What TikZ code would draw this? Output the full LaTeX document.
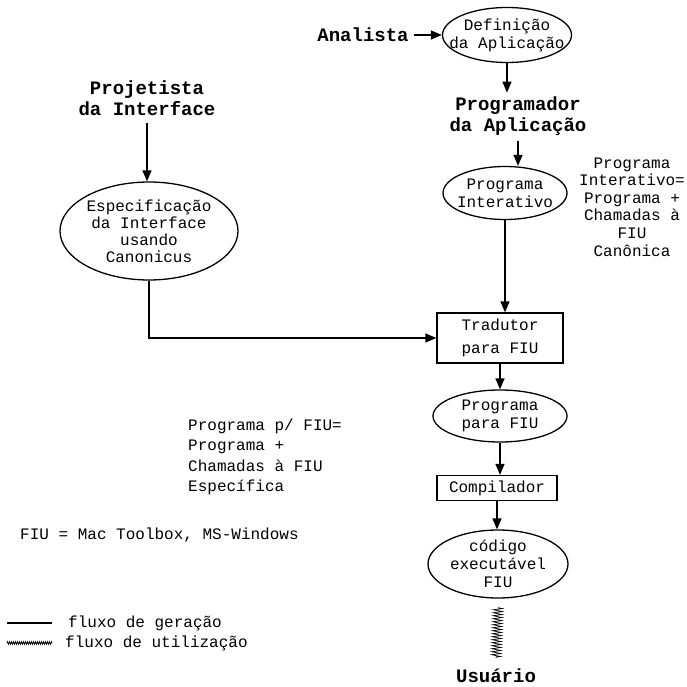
\documentclass[tikz,border=0pt]{standalone}
\usepackage{fontspec}
\setmainfont{Liberation Mono}
\usetikzlibrary{arrows.meta,positioning,shapes.geometric,decorations.pathmorphing}

\begin{document}
\begin{tikzpicture}[
    x=1pt, y=-1pt,
    font=\fontsize{16}{18}\selectfont,
    oval/.style={draw, ellipse, align=center, line width=1.3pt,
                 inner xsep=-12pt, inner ysep=-2pt},
    box/.style={draw, rectangle, align=center, line width=1.3pt, inner sep=0pt},
    actor/.style={font=\bfseries\fontsize{19}{20.5}\selectfont, align=center, inner sep=0pt},
    note/.style={align=center, inner sep=0pt},
    arr/.style={-{Triangle[length=11pt,width=9pt]}, line width=1.3pt},
    uso/.style={decorate, decoration={zigzag, segment length=3pt, amplitude=4.5pt},
                line width=0.7pt}
  ]
    \useasboundingbox (0,0) rectangle (686,687);

    % Aplicacao
    \node[oval, minimum width=128pt, minimum height=55pt] (def) at (507,35) {Definição\\da Aplicação};
    \node[actor, left=33pt of def] (analista) {Analista};
    \node[actor] (programador) at (518,116) {Programador\\da Aplicação};
    \node[oval, minimum width=124pt, minimum height=53pt] (progint) at (505,193) {Programa\\Interativo};
    \node[note, font=\fontsize{16}{17.6}\selectfont] (notaint) at (632,207)
        {Programa\\Interativo=\\Programa +\\Chamadas à\\FIU\\Canônica};

    \draw[arr, shorten <=5pt] (analista)--(def);
    \draw[arr, shorten >=4pt] (def.south)--(def.south |- programador.north);
    \draw[arr, shorten <=6pt] (programador.south)--(programador.south |- progint.north);

    % Interface
    \node[actor] (projetista) at (147,98) {Projetista\\da Interface};
    \node[oval, minimum width=178pt, minimum height=98pt, font=\fontsize{16}{17}\selectfont] (espec) at (149,231)
        {Especificação\\da Interface\\usando\\Canonicus};

    \draw[arr, shorten <=8pt] (projetista.south)--(projetista.south |- espec.north);

    % Traducao e compilacao
    \node[box, minimum width=126pt, minimum height=50pt] (tradutor) at (500,338) {Tradutor\\[5pt]para FIU};
    \node[oval, minimum width=134pt, minimum height=52pt] (progfiu) at (500,416) {Programa\\para FIU};
    \node[box, minimum width=120pt, minimum height=25pt] (compilador) at (497,488) {Compilador};
    \node[oval, minimum width=140pt, minimum height=68pt] (codigo) at (498,564) {código\\executável\\FIU};
    \node[actor] (usuario) at (496,676) {Usuário};

    \draw[arr] (progint.south)--(progint.south |- tradutor.north);
    \draw[arr] (espec.south) |- (tradutor.west);
    \draw[arr] (tradutor.south)--(tradutor.south |- progfiu.north);
    \draw[arr] (progfiu.south)--(progfiu.south |- compilador.north);
    \draw[arr] (compilador.south)--(compilador.south |- codigo.north);
    \draw[uso] ([yshift=-9pt]codigo.south)--([yshift=11pt]usuario.north);

    % Notas
    \node[note, align=left, anchor=west, font=\fontsize{16}{20.3}\selectfont] (notafiu) at (188,457)
        {Programa p/ FIU=\\Programa +\\Chamadas à FIU\\Específica};
    \node[note, anchor=west] (fiu) at (20,535) {FIU = Mac Toolbox, MS-Windows};

    % Legenda
    \coordinate (ger1) at (7,623);
    \coordinate (ger2) at (52,623);
    \coordinate (uti1) at (7,643);
    \coordinate (uti2) at (52,643);
    \node[note, anchor=west] (leggeracao) at (68,623) {fluxo de geração};
    \node[note, anchor=west] (legutil) at (65,643) {fluxo de utilização};
    \draw[line width=1.8pt] (ger1)--(ger2);
    \draw[uso, decoration={segment length=2pt, amplitude=1.3pt}] (uti1)--(uti2);
  \end{tikzpicture}
\end{document}
